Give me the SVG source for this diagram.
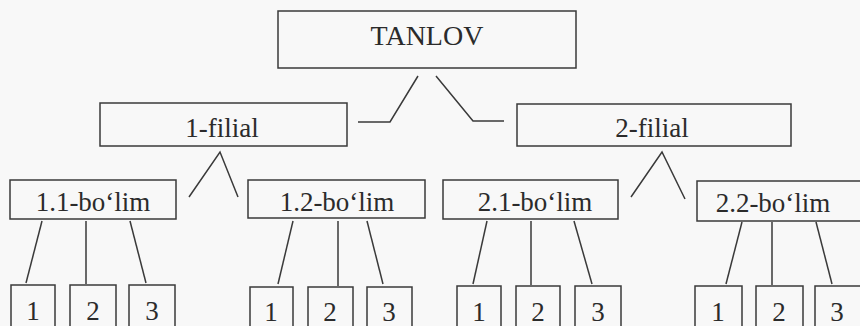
<svg xmlns="http://www.w3.org/2000/svg" width="860" height="326" viewBox="0 0 860 326">
<style>
.box{fill:none;stroke:#3a3a3a;stroke-width:1.5}
.lbl{font-family:"Liberation Serif","Times New Roman",serif;fill:#2b2b2b;text-anchor:middle}
.big{font-size:28px}
.mid{font-size:27px}
.num{font-size:27px}
.ln{fill:none;stroke:#3a3a3a;stroke-width:1.5}
</style>
<rect x="0" y="0" width="860" height="326" fill="#f8f8f8"/>
<g id="connectors">
<polyline class="ln" points="418,76 390,122 358,122"/>
<polyline class="ln" points="436,76 473,121 504,121"/>
<polyline class="ln" points="189,197 220,152 238,197"/>
<polyline class="ln" points="631,197 662,152 685,199"/>
<line class="ln" x1="42" y1="221" x2="26" y2="283"/>
<line class="ln" x1="86" y1="221" x2="86" y2="284"/>
<line class="ln" x1="130" y1="221" x2="146" y2="283"/>
<line class="ln" x1="293" y1="221" x2="278" y2="284"/>
<line class="ln" x1="338" y1="221" x2="338" y2="286"/>
<line class="ln" x1="367" y1="221" x2="383" y2="284"/>
<line class="ln" x1="487" y1="221" x2="473" y2="284"/>
<line class="ln" x1="531" y1="221" x2="531" y2="285"/>
<line class="ln" x1="574" y1="221" x2="592" y2="284"/>
<line class="ln" x1="742" y1="222" x2="726" y2="284"/>
<line class="ln" x1="772" y1="222" x2="772" y2="285"/>
<line class="ln" x1="816" y1="222" x2="832" y2="284"/>
</g>
<g id="tanlov"><rect class="box" x="278" y="11" width="298" height="57"/><text class="lbl big" x="427" y="45">TANLOV</text></g>
<g id="filial1"><rect class="box" x="100" y="103" width="247" height="43"/><text class="lbl mid" x="222" y="137">1-filial</text></g>
<g id="filial2"><rect class="box" x="517" y="104" width="274" height="42"/><text class="lbl mid" x="652" y="137">2-filial</text></g>
<g id="bolim11"><rect class="box" x="10" y="180" width="166" height="39"/><text class="lbl mid" x="93" y="211">1.1-bo‘lim</text></g>
<g id="bolim12"><rect class="box" x="248" y="180" width="177" height="38"/><text class="lbl mid" x="337" y="211">1.2-bo‘lim</text></g>
<g id="bolim21"><rect class="box" x="443" y="180" width="175" height="39"/><text class="lbl mid" x="535" y="211">2.1-bo‘lim</text></g>
<g id="bolim22"><rect class="box" x="697" y="181" width="170" height="40"/><text class="lbl mid" x="773" y="212">2.2-bo‘lim</text></g>
<g id="b11-1"><rect class="box" x="11" y="285" width="44" height="50"/><text class="lbl num" x="33" y="320">1</text></g>
<g id="b11-2"><rect class="box" x="70" y="285" width="46" height="50"/><text class="lbl num" x="93" y="320">2</text></g>
<g id="b11-3"><rect class="box" x="129" y="285" width="46" height="50"/><text class="lbl num" x="152" y="320">3</text></g>
<g id="b12-1"><rect class="box" x="250" y="287" width="43" height="50"/><text class="lbl num" x="271" y="321">1</text></g>
<g id="b12-2"><rect class="box" x="308" y="287" width="45" height="50"/><text class="lbl num" x="330" y="321">2</text></g>
<g id="b12-3"><rect class="box" x="367" y="287" width="45" height="50"/><text class="lbl num" x="389" y="321">3</text></g>
<g id="b21-1"><rect class="box" x="457" y="286" width="44" height="50"/><text class="lbl num" x="479" y="321">1</text></g>
<g id="b21-2"><rect class="box" x="516" y="286" width="44" height="50"/><text class="lbl num" x="538" y="321">2</text></g>
<g id="b21-3"><rect class="box" x="575" y="286" width="46" height="50"/><text class="lbl num" x="598" y="321">3</text></g>
<g id="b22-1"><rect class="box" x="695" y="286" width="47" height="50"/><text class="lbl num" x="718" y="321">1</text></g>
<g id="b22-2"><rect class="box" x="756" y="286" width="47" height="50"/><text class="lbl num" x="779" y="321">2</text></g>
<g id="b22-3"><rect class="box" x="815" y="286" width="50" height="50"/><text class="lbl num" x="837" y="321">3</text></g>
</svg>
